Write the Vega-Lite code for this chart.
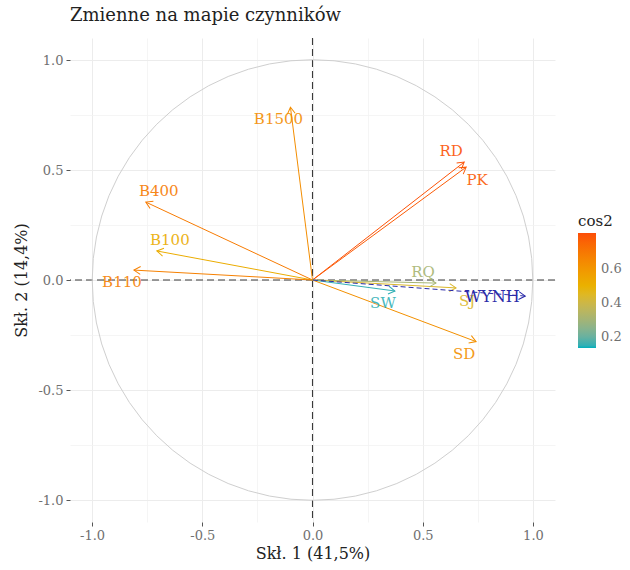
{
  "$schema": "https://vega.github.io/schema/vega-lite/v6.json",
  "width": 485,
  "height": 484,
  "autosize": {"type": "none"},
  "padding": {"left": 70, "top": 38, "right": 75, "bottom": 48},
  "background": "white",
  "title": {
    "text": "Zmienne na mapie czynników",
    "anchor": "start",
    "frame": "group",
    "font": "DejaVu Serif",
    "fontSize": 18,
    "fontWeight": "normal",
    "color": "#222222",
    "offset": 12
  },
  "config": {
    "view": {"stroke": null},
    "font": "DejaVu Serif",
    "text": {"font": "DejaVu Serif"},
    "legend": {"titleFontWeight": "normal", "titleFont": "DejaVu Serif", "labelFont": "DejaVu Serif"}
  },
  "datasets": {
    "osie": [{"zero": 0}],
    "aktywne": [
      {"zmienna": "B1500", "x": -0.10, "y": 0.785, "cos2": 0.63},
      {"zmienna": "RD", "x": 0.688, "y": 0.536, "cos2": 0.80},
      {"zmienna": "PK", "x": 0.697, "y": 0.513, "cos2": 0.78},
      {"zmienna": "B400", "x": -0.756, "y": 0.354, "cos2": 0.69},
      {"zmienna": "B100", "x": -0.706, "y": 0.132, "cos2": 0.52},
      {"zmienna": "B110", "x": -0.81, "y": 0.045, "cos2": 0.67},
      {"zmienna": "RQ", "x": 0.56, "y": -0.014, "cos2": 0.31},
      {"zmienna": "SJ", "x": 0.651, "y": -0.036, "cos2": 0.44},
      {"zmienna": "SW", "x": 0.374, "y": -0.05, "cos2": 0.15},
      {"zmienna": "SD", "x": 0.742, "y": -0.28, "cos2": 0.62}
    ],
    "dodatkowe": [
      {"zmienna": "WYNH", "x": 0.965, "y": -0.073}
    ]
  },
  "layer": [
    {
      "data": {"name": "osie"},
      "mark": {"type": "rule", "strokeDash": [7, 4], "color": "#3a3a3a", "strokeWidth": 1.1},
      "encoding": {
        "x": {
          "field": "zero", "type": "quantitative",
          "scale": {"domain": [-1.1, 1.1], "nice": false, "zero": false},
          "axis": {"orient": "bottom", "values": [-0.75, -0.25, 0.25, 0.75], "labels": false, "ticks": false, "domain": false, "grid": true, "gridColor": "#F3F3F3", "gridWidth": 0.8, "title": null}
        }
      }
    },
    {
      "data": {"name": "osie"},
      "mark": {"type": "rule", "strokeDash": [7, 4], "color": "#3a3a3a", "strokeWidth": 1.1},
      "encoding": {
        "y": {
          "field": "zero", "type": "quantitative",
          "scale": {"domain": [-1.1, 1.1], "nice": false, "zero": false},
          "axis": {"orient": "left", "values": [-0.75, -0.25, 0.25, 0.75], "labels": false, "ticks": false, "domain": false, "grid": true, "gridColor": "#F3F3F3", "gridWidth": 0.8, "title": null}
        }
      }
    },
    {
      "data": {"name": "osie"},
      "mark": {"type": "point", "shape": "circle", "size": 194100, "filled": false, "color": "#CFCFCF", "strokeWidth": 1, "opacity": 1},
      "encoding": {
        "x": {
          "field": "zero", "type": "quantitative",
          "axis": {
            "orient": "bottom", "values": [-1, -0.5, 0, 0.5, 1],
            "labelExpr": "datum.value < 0 ? '-' + format(-datum.value, '.1f') : format(datum.value, '.1f')",
            "grid": true, "gridColor": "#ECECEC", "gridWidth": 1,
            "domain": false, "ticks": true, "tickColor": "#555555", "tickSize": 4, "tickWidth": 1,
            "labelColor": "#707070", "labelFontSize": 13, "labelPadding": 3, "labelFont": "DejaVu Serif",
            "title": "Skł. 1 (41,5%)", "titleFont": "DejaVu Serif", "titleFontSize": 16, "titleFontWeight": "normal", "titleColor": "#222222", "titlePadding": 3
          }
        },
        "y": {
          "field": "zero", "type": "quantitative",
          "axis": {
            "orient": "left", "values": [-1, -0.5, 0, 0.5, 1],
            "labelExpr": "datum.value < 0 ? '-' + format(-datum.value, '.1f') : format(datum.value, '.1f')",
            "grid": true, "gridColor": "#ECECEC", "gridWidth": 1,
            "domain": false, "ticks": true, "tickColor": "#555555", "tickSize": 4, "tickWidth": 1,
            "labelColor": "#707070", "labelFontSize": 13, "labelPadding": 3, "labelFont": "DejaVu Serif",
            "title": "Skł. 2 (14,4%)", "titleFont": "DejaVu Serif", "titleFontSize": 16, "titleFontWeight": "normal", "titleColor": "#222222", "titlePadding": 8
          }
        }
      }
    },
    {
      "data": {"name": "aktywne"},
      "mark": {"type": "rule", "strokeWidth": 1},
      "encoding": {
        "x": {"field": "x", "type": "quantitative", "axis": null},
        "y": {"field": "y", "type": "quantitative", "axis": null},
        "x2": {"datum": 0},
        "y2": {"datum": 0},
        "color": {
          "field": "cos2", "type": "quantitative",
          "scale": {"domain": [0.135, 0.4725, 0.81], "range": ["#00AFBB", "#E7B800", "#FC4E07"], "interpolate": "lab"},
          "legend": {
            "type": "gradient", "direction": "vertical",
            "title": "cos2", "orient": "none", "legendX": 508, "legendY": 176,
            "values": [0.2, 0.4, 0.6], "format": ".1f", "labelOverlap": false,
            "gradientLength": 115, "gradientThickness": 18, "gradientStrokeWidth": 0,
            "labelFontSize": 13, "labelColor": "#707070", "labelFont": "DejaVu Serif", "labelOffset": 5,
            "titleFontSize": 15, "titleFontWeight": "normal", "titleColor": "#222222", "titleFont": "DejaVu Serif", "titlePadding": 4
          }
        }
      }
    },
    {
      "data": {"name": "aktywne"},
      "transform": [{"calculate": "atan2(-datum.y, datum.x) * 180 / PI", "as": "kat"}],
      "mark": {"type": "point", "shape": "M -1 -0.6 L 0 0 L -1 0.6", "filled": false, "size": 170, "strokeWidth": 1, "opacity": 1},
      "encoding": {
        "x": {"field": "x", "type": "quantitative", "axis": null},
        "y": {"field": "y", "type": "quantitative", "axis": null},
        "angle": {"field": "kat", "type": "quantitative", "scale": null},
        "color": {
          "field": "cos2", "type": "quantitative", "legend": null,
          "scale": {"domain": [0.135, 0.4725, 0.81], "range": ["#00AFBB", "#E7B800", "#FC4E07"], "interpolate": "lab"}
        }
      }
    },
    {
      "data": {"name": "aktywne"},
      "transform": [{"filter": {"field": "zmienna", "oneOf": ["RD", "RQ"]}}],
      "mark": {"type": "text", "dx": -13, "dy": -11, "fontSize": 15, "opacity": 0.9},
      "encoding": {
        "x": {"field": "x", "type": "quantitative", "axis": null},
        "y": {"field": "y", "type": "quantitative", "axis": null},
        "text": {"field": "zmienna"},
        "color": {
          "field": "cos2", "type": "quantitative", "legend": null,
          "scale": {"domain": [0.135, 0.4725, 0.81], "range": ["#00AFBB", "#E7B800", "#FC4E07"], "interpolate": "lab"}
        }
      }
    },
    {
      "data": {"name": "aktywne"},
      "transform": [{"filter": {"field": "zmienna", "oneOf": ["B400", "B100"]}}],
      "mark": {"type": "text", "dx": 13, "dy": -11, "fontSize": 15, "opacity": 0.9},
      "encoding": {
        "x": {"field": "x", "type": "quantitative", "axis": null},
        "y": {"field": "y", "type": "quantitative", "axis": null},
        "text": {"field": "zmienna"},
        "color": {
          "field": "cos2", "type": "quantitative", "legend": null,
          "scale": {"domain": [0.135, 0.4725, 0.81], "range": ["#00AFBB", "#E7B800", "#FC4E07"], "interpolate": "lab"}
        }
      }
    },
    {
      "data": {"name": "aktywne"},
      "transform": [{"filter": {"field": "zmienna", "oneOf": ["B1500", "B110", "SW", "SD"]}}],
      "mark": {"type": "text", "dx": -12, "dy": 12, "fontSize": 15, "opacity": 0.9},
      "encoding": {
        "x": {"field": "x", "type": "quantitative", "axis": null},
        "y": {"field": "y", "type": "quantitative", "axis": null},
        "text": {"field": "zmienna"},
        "color": {
          "field": "cos2", "type": "quantitative", "legend": null,
          "scale": {"domain": [0.135, 0.4725, 0.81], "range": ["#00AFBB", "#E7B800", "#FC4E07"], "interpolate": "lab"}
        }
      }
    },
    {
      "data": {"name": "aktywne"},
      "transform": [{"filter": {"field": "zmienna", "oneOf": ["PK", "SJ"]}}],
      "mark": {"type": "text", "dx": 11, "dy": 13, "fontSize": 15, "opacity": 0.9},
      "encoding": {
        "x": {"field": "x", "type": "quantitative", "axis": null},
        "y": {"field": "y", "type": "quantitative", "axis": null},
        "text": {"field": "zmienna"},
        "color": {
          "field": "cos2", "type": "quantitative", "legend": null,
          "scale": {"domain": [0.135, 0.4725, 0.81], "range": ["#00AFBB", "#E7B800", "#FC4E07"], "interpolate": "lab"}
        }
      }
    },
    {
      "data": {"name": "dodatkowe"},
      "mark": {"type": "rule", "strokeWidth": 1, "strokeDash": [5, 3], "color": "#2B2BA8"},
      "encoding": {
        "x": {"field": "x", "type": "quantitative", "axis": null},
        "y": {"field": "y", "type": "quantitative", "axis": null},
        "x2": {"datum": 0},
        "y2": {"datum": 0}
      }
    },
    {
      "data": {"name": "dodatkowe"},
      "transform": [{"calculate": "atan2(-datum.y, datum.x) * 180 / PI", "as": "kat"}],
      "mark": {"type": "point", "shape": "M -1 -0.6 L 0 0 L -1 0.6", "filled": false, "size": 170, "strokeWidth": 1, "opacity": 1, "color": "#2B2BA8"},
      "encoding": {
        "x": {"field": "x", "type": "quantitative", "axis": null},
        "y": {"field": "y", "type": "quantitative", "axis": null},
        "angle": {"field": "kat", "type": "quantitative", "scale": null}
      }
    },
    {
      "data": {"name": "dodatkowe"},
      "mark": {"type": "text", "dx": -33, "dy": 1, "fontSize": 16, "color": "#2B2BA8"},
      "encoding": {
        "x": {"field": "x", "type": "quantitative", "axis": null},
        "y": {"field": "y", "type": "quantitative", "axis": null},
        "text": {"field": "zmienna"}
      }
    }
  ],
  "resolve": {
    "axis": {"x": "independent", "y": "independent"},
    "scale": {"color": "independent"},
    "legend": {"color": "independent"}
  }
}
